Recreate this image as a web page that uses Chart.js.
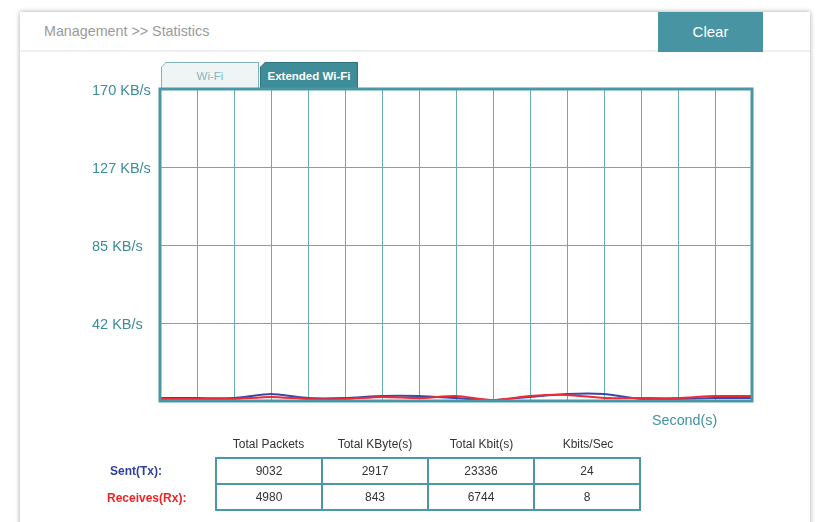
<!DOCTYPE html>
<html>
<head>
<meta charset="utf-8">
<script src="https://cdn.jsdelivr.net/npm/chart.js@4/dist/chart.umd.min.js"></script>
<style>
  body { margin:0; width:819px; height:522px; background:#fff; overflow:hidden; position:relative;
         font-family:"Liberation Sans", Arial, sans-serif; }
  .card { position:absolute; left:20px; top:12px; width:790px; height:540px; background:#fff;
          box-shadow:0 0 5px rgba(0,0,0,0.35); }
  .headline { position:absolute; left:20px; top:50px; width:790px; height:2px; background:#eef0f0; }
  .crumb { position:absolute; left:44px; top:23px; font-size:14.3px; color:#9a9a9a; }
  .clear { position:absolute; left:658px; top:12px; width:105px; height:40px; background:#4894a2;
           color:#fff; font-size:15px; line-height:40px; text-align:center; }
  .tab { position:absolute; top:62px; height:26px; width:98px; box-sizing:border-box; font-size:11.5px;
         line-height:26px; text-align:center;
         clip-path:polygon(5px 0, 100% 0, 100% 100%, 0 100%, 0 5px); }
  .tab1 { left:161px; background:#7fb2bb; }
  .tab1 span { position:absolute; left:1px; top:1px; right:1px; bottom:0; background:#eff4f5; color:#86b6bf;
               clip-path:polygon(4px 0, 100% 0, 100% 100%, 0 100%, 0 4px); }
  .tab2 { left:260px; background:#2e7581; }
  .tab2 span { position:absolute; left:1px; top:1px; right:1px; bottom:0; background:#3f8d99; color:#fff; font-weight:bold;
               clip-path:polygon(4px 0, 100% 0, 100% 100%, 0 100%, 0 4px); }
  canvas { position:absolute; left:0; top:0; }
  .unit { position:absolute; left:652px; top:412px; font-size:14.3px; color:#4392a1; }
  .hdr { position:absolute; top:437px; font-size:12px; color:#333; width:107px; text-align:center; }
  .rowlab { position:absolute; left:108px; font-size:12px; font-weight:bold; }
  table.stats { position:absolute; left:215px; top:457px; border-collapse:collapse; }
  table.stats td { border:2px solid #4a97a5; width:104px; height:24px; padding:0; text-align:center;
                   font-size:12px; color:#333; }
</style>
</head>
<body>
<div class="card"></div>
<div class="headline"></div>
<div class="crumb">Management &gt;&gt; Statistics</div>
<div class="clear">Clear</div>
<div class="tab tab1"><span>Wi-Fi</span></div>
<div class="tab tab2"><span>Extended Wi-Fi</span></div>
<canvas id="c" width="819" height="522"></canvas>
<div class="unit">Second(s)</div>
<div id="hdrs"></div>
<div class="rowlab" style="top:464px;color:#2f3f9e;left:110px">Sent(Tx):</div>
<div class="rowlab" style="top:491px;color:#ee2424;left:107px">Receives(Rx):</div>
<table class="stats" id="stats"></table>
<script>
// Time axis: one sample per second slot
const seconds = [0,1,2,3,4,5,6,7,8,9,10,11,12,13,14,15,16];
// Throughput in KB/s
const sentTx =     [1.6,1.6,1.6,3.8,1.6,1.6,2.7,2.7,1.6,0.5,2.2,3.8,3.8,1.1,1.1,1.6,1.6];
const receivedRx = [1.1,1.1,1.1,2.2,1.1,1.1,2.2,1.6,2.7,0.5,2.7,3.3,1.6,1.6,1.6,2.7,2.7];
// Y axis ticks
const yTickValues = [0, 42.5, 85, 127.5, 170];
const yTickLabels = ['', '42 KB/s', '85 KB/s', '127 KB/s', '170 KB/s'];
// Totals table
const statColumns = ['Total Packets', 'Total KByte(s)', 'Total Kbit(s)', 'Kbits/Sec'];
const sentTotals = [9032, 2917, 23336, 24];
const receivedTotals = [4980, 843, 6744, 8];

const hdrs = document.getElementById('hdrs');
statColumns.forEach((t, i) => {
  const d = document.createElement('div');
  d.className = 'hdr';
  d.style.left = (215 + i * 106.5) + 'px';
  d.textContent = t;
  hdrs.appendChild(d);
});
const tbl = document.getElementById('stats');
[sentTotals, receivedTotals].forEach(row => {
  const tr = document.createElement('tr');
  row.forEach(v => { const td = document.createElement('td'); td.textContent = v; tr.appendChild(td); });
  tbl.appendChild(tr);
});

const frame = {
  id: 'frame',
  afterDatasetsDraw(chart) {
    const a = chart.chartArea, ctx = chart.ctx;
    ctx.save();
    ctx.strokeStyle = '#4a97a5';
    ctx.lineWidth = 3;
    ctx.strokeRect(a.left, a.top, a.right - a.left, a.bottom - a.top);
    ctx.restore();
  }
};

new Chart(document.getElementById('c'), {
  type: 'line',
  data: {
    labels: seconds,
    datasets: [
      { label: 'Receives(Rx)', data: receivedRx, borderColor: '#ee2a35', borderWidth: 2, pointRadius: 0, tension: 0.2, fill: false },
      { label: 'Sent(Tx)', data: sentTx, borderColor: '#3a48a6', borderWidth: 2, pointRadius: 0, tension: 0.2, fill: false }
    ]
  },
  options: {
    responsive: false,
    devicePixelRatio: 1,
    animation: false,
    layout: { padding: { left: 92, top: 89, right: 67, bottom: 121 } },
    plugins: { legend: { display: false }, tooltip: { enabled: false } },
    scales: {
      x: {
        offset: false,
        grid: { color: '#6aaab4', lineWidth: 1, drawTicks: false },
        border: { display: false },
        ticks: { display: false },
        afterFit(s) { s.height = 0; }
      },
      y: {
        min: 0, max: 170,
        afterBuildTicks(s) { s.ticks = yTickValues.map(v => ({ value: v })); },
        grid: { color: '#6aaab4', lineWidth: 1, drawTicks: false },
        border: { display: false },
        ticks: {
          crossAlign: 'far',
          labelOffset: 2,
          color: '#3e8d9b',
          font: { family: '"Liberation Sans", Arial, sans-serif', size: 14.5 },
          callback: (v, i) => yTickLabels[i]
        },
        afterFit(s) { s.width = 68; }
      }
    }
  },
  plugins: [frame]
});
</script>
</body>
</html>
